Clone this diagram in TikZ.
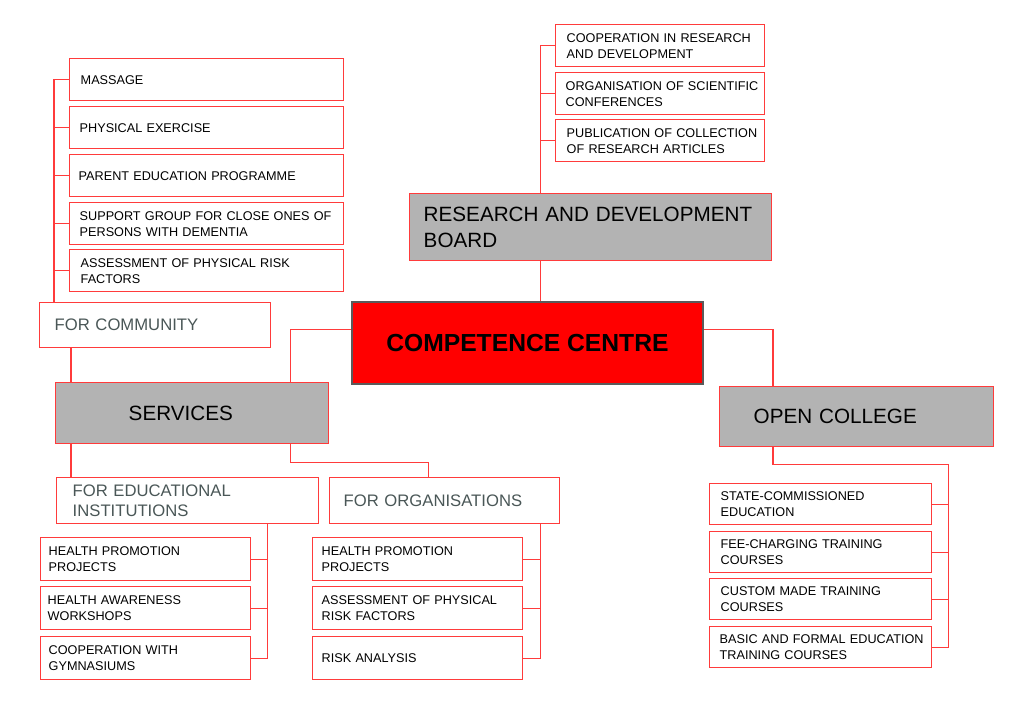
\documentclass[tikz,border=0pt]{standalone}
\usepackage{fontspec}
\setmainfont{Liberation Sans}
\usetikzlibrary{calc}
\definecolor{boxred}{HTML}{FF3B3B}
\definecolor{boardgray}{HTML}{B3B3B3}
\definecolor{labelgray}{HTML}{4A5757}
\definecolor{ccborder}{HTML}{5A5A5A}

\begin{document}
\begin{tikzpicture}[x=0.75pt, y=-0.75pt,
  cell/.style n args={3}{anchor=north west, draw=boxred, line width=1.1pt, fill=white, inner sep=0pt, align=left,
    minimum width=#1*0.75pt, minimum height=#2*0.75pt, text width=#1*0.75pt,
    execute at begin node={\leftskip=\dimexpr #3pt*3/4\relax\hyphenpenalty=10000\exhyphenpenalty=10000 }},
  small/.style={font=\fontsize{9.5}{12}\selectfont},
  middle/.style={font=\fontsize{12.5}{15}\selectfont, text=labelgray},
  big/.style={font=\fontsize{15.5}{19.5}\selectfont, fill=boardgray},
  link/.style={draw=boxred, line width=0.8pt}]

\useasboundingbox (0,0) rectangle (1024,704);

% centre
\node [anchor=north west, minimum width=351*0.75pt, minimum height=82*0.75pt, fill=red, draw=ccborder, line width=1.4pt, font=\fontsize{18.5}{22}\bfseries] (cc) at (351,301) {COMPETENCE CENTRE};

% research and development
\node [cell={362}{67}{14}, big] (rdb) at (409,193) {RESEARCH AND DEVELOPMENT\\BOARD};
\node [cell={209}{42}{11}, small] (coop) at (555,24) {COOPERATION IN RESEARCH\\AND DEVELOPMENT};
\node [cell={209}{42}{10}, small] (conf) at (555,72) {ORGANISATION OF SCIENTIFIC\\CONFERENCES};
\node [cell={209}{42}{11}, small] (publ) at (555,119) {PUBLICATION OF COLLECTION\\OF RESEARCH ARTICLES};

% services
\node [cell={273}{61}{73}, big] (srv) at (55,382) {SERVICES};
\node [cell={231}{45}{15}, middle] (fc) at (39,302) {FOR COMMUNITY};
\node [cell={274}{42}{11}, small] (massage) at (69,58) {MASSAGE};
\node [cell={274}{42}{10}, small] (exercise) at (69,106) {PHYSICAL EXERCISE};
\node [cell={274}{42}{9}, small] (parents) at (69,154) {PARENT EDUCATION PROGRAMME};
\node [cell={274}{42}{10}, small] (support) at (69,202) {SUPPORT GROUP FOR CLOSE ONES OF\\PERSONS WITH DEMENTIA};
\node [cell={274}{42}{11}, small] (riskcom) at (69,249) {ASSESSMENT OF PHYSICAL RISK\\FACTORS};

\node [cell={262}{46}{16}, middle] (fedu) at (56,477) {FOR EDUCATIONAL\\INSTITUTIONS};
\node [cell={210}{43}{8}, small] (hppedu) at (40,537) {HEALTH PROMOTION\\PROJECTS};
\node [cell={210}{43}{7}, small] (workshops) at (40,586) {HEALTH AWARENESS\\WORKSHOPS};
\node [cell={210}{43}{8}, small] (gyms) at (40,636) {COOPERATION WITH\\GYMNASIUMS};

\node [cell={230}{46}{14}, middle] (forg) at (329,477) {FOR ORGANISATIONS};
\node [cell={210}{43}{9}, small] (hpporg) at (312,537) {HEALTH PROMOTION\\PROJECTS};
\node [cell={210}{43}{9}, small] (riskorg) at (312,586) {ASSESSMENT OF PHYSICAL\\RISK FACTORS};
\node [cell={210}{43}{9}, small] (analysis) at (312,636) {RISK ANALYSIS};

% open college
\node [cell={274}{60}{34}, big] (oc) at (719,386) {OPEN COLLEGE};
\node [cell={222}{41}{11}, small] (state) at (709,483) {STATE-COMMISSIONED\\EDUCATION};
\node [cell={222}{41}{11}, small] (fee) at (709,531) {FEE-CHARGING TRAINING\\COURSES};
\node [cell={222}{41}{11}, small] (custom) at (709,578) {CUSTOM MADE TRAINING\\COURSES};
\node [cell={222}{41}{10}, small] (basic) at (709,626) {BASIC AND FORMAL EDUCATION\\TRAINING COURSES};

% connectors
\foreach \n in {coop,conf,publ}
  \draw[link] ([xshift=-50*0.75pt]rdb.north) |- (\n.west);
\draw[link] ([xshift=-50*0.75pt]rdb.south) -- ([xshift=-50*0.75pt]rdb.south |- cc.north);

\draw[link] ([yshift=13*0.75pt]cc.west) -| ([xshift=-39*0.75pt]srv.north east);
\draw[link] ([yshift=13*0.75pt]cc.east) -| ([xshift=54*0.75pt]oc.north west);

\draw[link] ([xshift=16*0.75pt]srv.north west) -- ([xshift=16*0.75pt]srv.north west |- fc.south);
\foreach \n in {massage,exercise,parents,support,riskcom}
  \draw[link] ([xshift=15*0.75pt]fc.north west) |- (\n.west);

\draw[link] ([xshift=16*0.75pt]srv.south west) -- ([xshift=16*0.75pt]srv.south west |- fedu.north);
\draw[link] ([xshift=-39*0.75pt]srv.south east) -- ++(0,18) -| ([xshift=-16*0.75pt]forg.north);

\foreach \n in {hppedu,workshops,gyms}
  \draw[link] ([xshift=-52*0.75pt]fedu.south east) |- (\n.east);
\foreach \n in {hpporg,riskorg,analysis}
  \draw[link] ([xshift=-20*0.75pt]forg.south east) |- (\n.east);

\draw[link] ([xshift=54*0.75pt]oc.south west) -- ++(0,17) -| ([xshift=16*0.75pt]basic.east) -- (basic.east);
\foreach \n in {state,fee,custom}
  \draw[link] (\n.east) -- ++(16,0);

\end{tikzpicture}
\end{document}
